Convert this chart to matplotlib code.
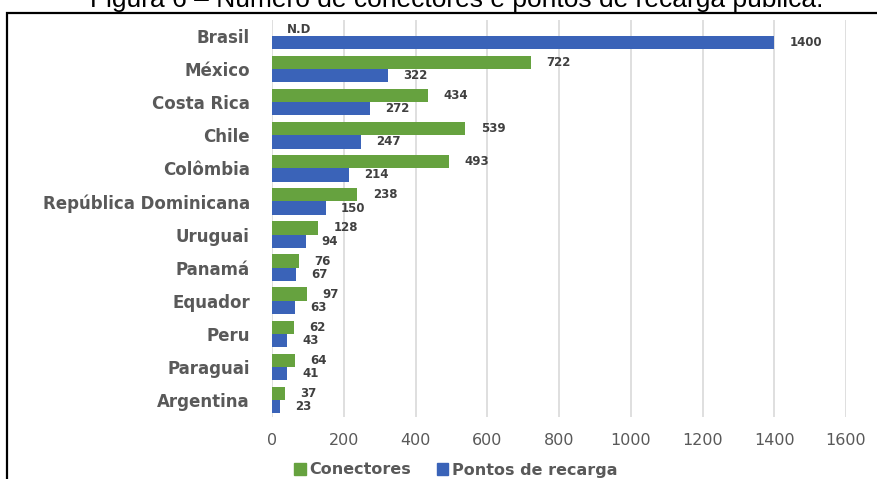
import numpy as np
import matplotlib
matplotlib.use("Agg")
import matplotlib.pyplot as plt
from matplotlib.patches import Patch, Rectangle

# data
paises = ["Brasil", "México", "Costa Rica", "Chile", "Colômbia",
          "República Dominicana", "Uruguai", "Panamá", "Equador",
          "Peru", "Paraguai", "Argentina"]
conectores = [None, 722, 434, 539, 493, 238, 128, 76, 97, 62, 64, 37]
pontos = [1400, 322, 272, 247, 214, 150, 94, 67, 63, 43, 41, 23]
xticks = [0, 200, 400, 600, 800, 1000, 1200, 1400, 1600]

verde = "#66a23f"
azul = "#3a63b8"
cinza = "#595959"

W, H = 877, 479
fig = plt.figure(figsize=(W / 100, H / 100), dpi=100)
ax = fig.add_axes([272 / W, 1 - 416.5 / H, 574 / W, 397 / H])

y = np.arange(len(paises))
h = 0.4
conn = [0 if v is None else v for v in conectores]
ax.barh(y - h / 2, conn, height=h, color=verde, zorder=2)
ax.barh(y + h / 2, pontos, height=h, color=azul, zorder=2)

# data labels
for i in range(len(paises)):
    txt = "N.D" if conectores[i] is None else str(conectores[i])
    ax.annotate(txt, (conn[i], y[i] - h / 2), xytext=(11, 0),
                textcoords="offset points", va="center", ha="left",
                fontsize=8.5, fontweight="bold", color="#404040")
    ax.annotate(str(pontos[i]), (pontos[i], y[i] + h / 2), xytext=(11, 0),
                textcoords="offset points", va="center", ha="left",
                fontsize=8.5, fontweight="bold", color="#404040")

ax.set_xlim(0, 1600)
ax.set_ylim(len(paises) - 0.5, -0.5)
ax.set_xticks(xticks)
ax.set_yticks(y)
ax.set_yticklabels(paises, fontsize=12, fontweight="bold", color=cinza)
ax.tick_params(axis="y", length=0, pad=16)
ax.tick_params(axis="x", length=0, pad=12, labelsize=11.5, labelcolor=cinza)
ax.grid(axis="x", color="#d9d9d9", linewidth=1.2, zorder=0)
for s in ax.spines.values():
    s.set_visible(False)

handles = [Patch(color=verde, label="Conectores"),
           Patch(color=azul, label="Pontos de recarga")]
fig.legend(handles=handles, loc="center", bbox_to_anchor=(456 / W, 1 - 470 / H),
           ncol=2, frameon=False, handlelength=0.7, handleheight=0.7,
           handletextpad=0.25, columnspacing=1.6,
           prop={"size": 11.5, "weight": "bold"}, labelcolor=cinza)

# frame and cropped caption
fig.patches.append(Rectangle((7 / W, -0.05), 1.1, 1.05 - 13 / H, fill=False,
                             edgecolor="black", linewidth=1.6,
                             transform=fig.transFigure, clip_on=False))
fig.text(457 / W, 1 - 7 / H, "Figura 6 – Número de conectores e pontos de recarga pública.",
         ha="center", va="baseline", fontsize=19, family="Liberation Sans")

fig.savefig("out.png", dpi=100)
